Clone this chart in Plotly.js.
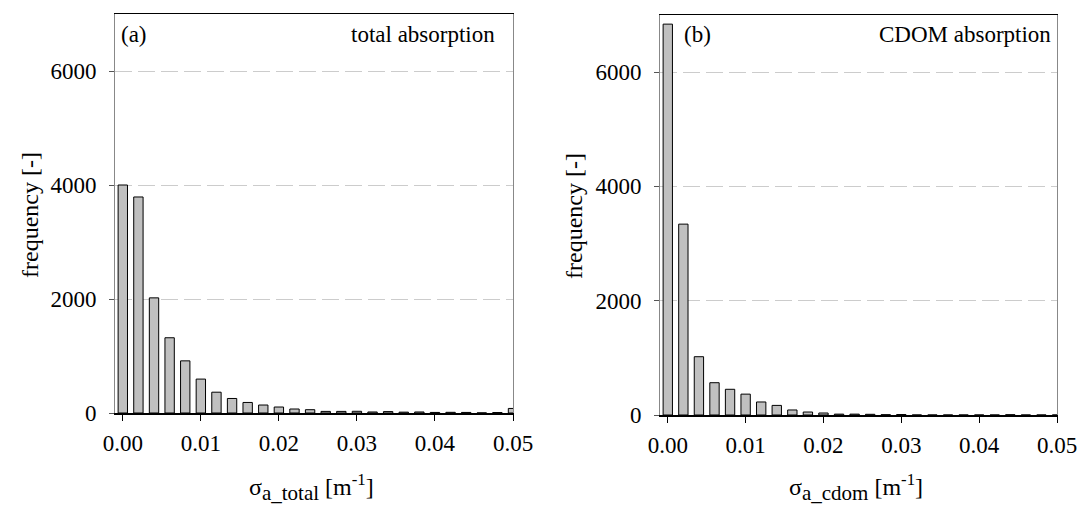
<!DOCTYPE html>
<html>
<head>
<meta charset="utf-8">
<script src="https://cdn.plot.ly/plotly-3.0.1.min.js"></script>
<style>html,body{margin:0;padding:0;background:#fff}#chart{width:1080px;height:510px}</style>
</head>
<body>
<div id="chart"></div>
<script>
// bin centres (m^-1)
const binCenters = [0.000,0.002,0.004,0.006,0.008,0.010,0.012,0.014,0.016,0.018,0.020,0.022,0.024,0.026,0.028,0.030,0.032,0.034,0.036,0.038,0.040,0.042,0.044,0.046,0.048,0.050];
// (a) total absorption frequencies
const totalFreq = [4000,3790,2020,1320,915,595,365,255,185,140,105,70,58,28,28,30,18,25,15,18,10,12,10,2,8,80];
// (b) CDOM absorption frequencies
const cdomFreq = [6840,3340,1020,565,450,365,228,168,88,52,35,15,15,12,5,8,0,0,0,0,0,0,5,0,0,0];
const xTickVals = [0,0.01,0.02,0.03,0.04,0.05];
const xTickText = ['0.00','0.01','0.02','0.03','0.04','0.05'];
const yTickVals = [0,2000,4000,6000];
const yTickText = ['0','2000','4000','6000'];

const FONT = '"Liberation Serif", "Times New Roman", serif';
const FS = 23;
const TFS = 24;
const barStyle = {color:'#c0c0c0', line:{color:'#000', width:1}};

const traces = [
  {type:'bar', x:binCenters, y:totalFreq, width:0.0012, marker:barStyle, xaxis:'x', yaxis:'y', hoverinfo:'x+y'},
  {type:'bar', x:binCenters, y:cdomFreq, width:0.0012, marker:barStyle, xaxis:'x2', yaxis:'y2', hoverinfo:'x+y'}
];

function xax(domain, anchor){
  return {domain:domain, anchor:anchor, range:[-0.001,0.05], tickvals:xTickVals, ticktext:xTickText,
    ticks:'outside', ticklen:6, tickcolor:'#000', showline:true, linecolor:'#000', linewidth:1.5, mirror:true,
    showgrid:false, zeroline:false, tickfont:{family:FONT, size:FS, color:'#000'}, ticklabelstandoff:3};
}
function yax(domain, anchor){
  return {domain:domain, anchor:anchor, range:[0,7000], tickvals:yTickVals, ticktext:yTickText,
    ticks:'outside', ticklen:5, tickcolor:'#555', showline:true, linecolor:'#888', linewidth:1, mirror:true,
    showgrid:true, gridcolor:'#cccccc', gridwidth:1, griddash:'17px,6px', zeroline:false,
    tickfont:{family:FONT, size:FS, color:'#000'}, ticklabelstandoff:8};
}

const subStyle = '<span style="font-size:21px">';
const layout = {
  width:1080, height:510, margin:{l:0,r:0,t:0,b:0}, showlegend:false,
  paper_bgcolor:'#fff', plot_bgcolor:'#fff', bargap:0,
  font:{family:FONT, size:FS, color:'#000'},
  xaxis: xax([115/1080, 513/1080], 'y'),
  yaxis: yax([1-413/510, 1-14/510], 'x'),
  xaxis2: xax([660/1080, 1057/1080], 'y2'),
  yaxis2: yax([1-415/510, 1-15/510], 'x2'),
  annotations:[
    {text:'(a)', xref:'paper', yref:'paper', x:119/1080, y:1-35/510, xanchor:'left', yanchor:'middle', showarrow:false, font:{family:FONT,size:FS}},
    {text:'total absorption', xref:'paper', yref:'paper', x:497/1080, y:1-35/510, xanchor:'right', yanchor:'middle', showarrow:false, font:{family:FONT,size:FS}},
    {text:'(b)', xref:'paper', yref:'paper', x:682/1080, y:1-35/510, xanchor:'left', yanchor:'middle', showarrow:false, font:{family:FONT,size:FS}},
    {text:'CDOM absorption', xref:'paper', yref:'paper', x:1053/1080, y:1-35/510, xanchor:'right', yanchor:'middle', showarrow:false, font:{family:FONT,size:FS}},
    {text:'frequency [-]', xref:'paper', yref:'paper', x:30/1080, y:1-215/510, xanchor:'center', yanchor:'middle', textangle:-90, showarrow:false, font:{family:FONT,size:TFS}},
    {text:'frequency [-]', xref:'paper', yref:'paper', x:574/1080, y:1-216/510, xanchor:'center', yanchor:'middle', textangle:-90, showarrow:false, font:{family:FONT,size:TFS}},
    {text:'σ<sub>'+subStyle+'a_total</span></sub> [m<sup>-1</sup>]', xref:'paper', yref:'paper', x:312/1080, y:1-487/510, xanchor:'center', yanchor:'middle', showarrow:false, font:{family:FONT,size:TFS}},
    {text:'σ<sub>'+subStyle+'a_cdom</span></sub> [m<sup>-1</sup>]', xref:'paper', yref:'paper', x:856/1080, y:1-487/510, xanchor:'center', yanchor:'middle', showarrow:false, font:{family:FONT,size:TFS}}
  ]
};

Plotly.newPlot('chart', traces, layout, {displayModeBar:false, staticPlot:true});
</script>
</body>
</html>
